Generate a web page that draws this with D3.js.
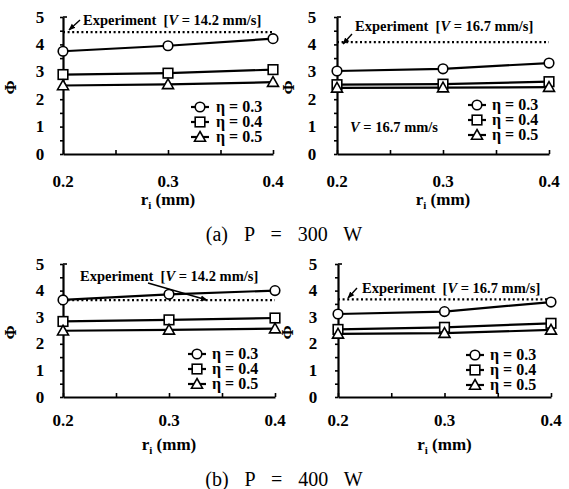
<!DOCTYPE html>
<html><head><meta charset="utf-8">
<script src="https://cdn.jsdelivr.net/npm/d3@7"></script>
<style>
body{margin:0;background:#fff;}
</style></head>
<body><svg id="c" width="569" height="489"></svg>
<script>
// ---- data ----
const radii = [0.2, 0.3, 0.4];
const etaLabels = ["η = 0.3", "η = 0.4", "η = 0.5"];
const xTickLabels = ["0.2", "0.3", "0.4"];
const yTickLabels = ["0", "1", "2", "3", "4", "5"];
// P = 300 W, V = 14.2 mm/s
const a1_eta03 = [3.75, 3.95, 4.21];
const a1_eta04 = [2.90, 2.95, 3.08];
const a1_eta05 = [2.50, 2.54, 2.62];
const a1_exp = 4.45;
// P = 300 W, V = 16.7 mm/s
const a2_eta03 = [3.03, 3.11, 3.32];
const a2_eta04 = [2.53, 2.55, 2.64];
const a2_eta05 = [2.41, 2.42, 2.44];
const a2_exp = 4.08;
// P = 400 W, V = 14.2 mm/s
const b1_eta03 = [3.65, 3.86, 4.00];
const b1_eta04 = [2.84, 2.90, 2.97];
const b1_eta05 = [2.49, 2.52, 2.57];
const b1_exp = 3.64;
// P = 400 W, V = 16.7 mm/s
const b2_eta03 = [3.12, 3.21, 3.57];
const b2_eta04 = [2.54, 2.62, 2.77];
const b2_eta05 = [2.37, 2.40, 2.52];
const b2_exp = 3.67;
const captions = ["(a)  P  =  300  W", "(b)  P  =  400  W"];

const FONT = "Liberation Serif";
const svg = d3.select("#c");
const symbols = ["circle", "square", "triangle"];

function txt(g) {
  return g.append("text").attr("font-family", FONT);
}

function drawMarker(g, type, x, y) {
  if (type === "circle") {
    g.append("circle").attr("cx", x).attr("cy", y).attr("r", 4.8)
      .attr("fill", "#fff").attr("stroke", "#000").attr("stroke-width", 1.6);
  } else if (type === "square") {
    g.append("rect").attr("x", x - 4.8).attr("y", y - 4.8).attr("width", 9.6).attr("height", 9.6)
      .attr("fill", "#fff").attr("stroke", "#000").attr("stroke-width", 1.6);
  } else {
    g.append("path").attr("d", `M${x},${y-5.5}L${x+5.5},${y+4.2}L${x-5.5},${y+4.2}Z`)
      .attr("fill", "#fff").attr("stroke", "#000").attr("stroke-width", 1.6);
  }
}

svg.append("defs").append("marker").attr("id", "ah").attr("viewBox", "0 0 10 10")
  .attr("refX", 9).attr("refY", 5).attr("markerWidth", 7).attr("markerHeight", 7)
  .attr("markerUnits", "userSpaceOnUse").attr("orient", "auto")
  .append("path").attr("d", "M0,1L10,5L0,9Z").attr("fill", "#000");

const panels = [
  {series: [a1_eta03, a1_eta04, a1_eta05], exp: a1_exp, vel: "14.2",
   x0: 63, x1: 273, y0: 154, y1: 17, ylab: 40, phiX: 11,
   xlabY: 187, rlabY: 205,
   expText: [83, 25], arrow: [80, 20, 69, 30],
   leg: {sx: 200, tx: 216, ys: [107, 122, 137]}, vnote: null},
  {series: [a2_eta03, a2_eta04, a2_eta05], exp: a2_exp, vel: "16.7",
   x0: 337, x1: 549, y0: 154, y1: 17, ylab: 312, phiX: 289,
   xlabY: 187, rlabY: 205,
   expText: [355, 31], arrow: [352, 34, 343, 44],
   leg: {sx: 477, tx: 492, ys: [105, 120, 135]}, vnote: [350, 132]},
  {series: [b1_eta03, b1_eta04, b1_eta05], exp: b1_exp, vel: "14.2",
   x0: 63, x1: 275, y0: 397, y1: 264, ylab: 40, phiX: 11,
   xlabY: 426, rlabY: 450,
   expText: [80, 281], arrow: [148, 283, 207, 300],
   leg: {sx: 197, tx: 212, ys: [354, 369, 384]}, vnote: null},
  {series: [b2_eta03, b2_eta04, b2_eta05], exp: b2_exp, vel: "16.7",
   x0: 338, x1: 551, y0: 397, y1: 264, ylab: 313, phiX: 288,
   xlabY: 426, rlabY: 450,
   expText: [362, 293], arrow: [357, 288, 348, 298],
   leg: {sx: 475, tx: 490, ys: [355, 370, 385]}, vnote: null}
];

panels.forEach(p => {
  const g = svg.append("g");
  const x = d3.scaleLinear().domain([0.2, 0.4]).range([p.x0, p.x1]);
  const y = d3.scaleLinear().domain([0, 5]).range([p.y0, p.y1]);

  const yAx = g.append("g").attr("transform", `translate(${p.x0},0)`)
    .call(d3.axisLeft(y).tickValues(d3.range(0, 5.01, 0.5)).tickSize(3).tickFormat("").tickSizeOuter(0));
  yAx.select(".domain").attr("stroke-width", 2.2);
  yAx.selectAll(".tick line").attr("stroke-width", 1.6);
  g.append("line").attr("x1", p.x0).attr("x2", p.x0 + 4).attr("y1", y(5)).attr("y2", y(5))
    .attr("stroke", "#000").attr("stroke-width", 1.6);
  const xAx = g.append("g").attr("transform", `translate(0,${p.y0})`)
    .call(d3.axisTop(x).tickValues([0.2, 0.25, 0.3, 0.35, 0.4]).tickSize(4).tickFormat("").tickSizeOuter(0));
  xAx.select(".domain").attr("stroke-width", 2.2);
  xAx.selectAll(".tick line").attr("stroke-width", 1.6);

  yTickLabels.forEach((d, i) => {
    txt(g).attr("x", p.ylab).attr("y", y(i) + 5.5).attr("text-anchor", "middle")
      .attr("font-size", 17).attr("font-weight", "bold").text(d);
  });
  xTickLabels.forEach((d, i) => {
    txt(g).attr("x", x(radii[i])).attr("y", p.xlabY).attr("text-anchor", "middle")
      .attr("font-size", 17).attr("font-weight", "bold").text(d);
  });

  const rt = txt(g).attr("x", (p.x0 + p.x1) / 2).attr("y", p.rlabY)
    .attr("text-anchor", "middle").attr("font-size", 17).attr("font-weight", "bold");
  rt.append("tspan").text("r");
  rt.append("tspan").attr("font-size", 11).attr("dy", 4).text("i");
  rt.append("tspan").attr("dy", -4).text(" (mm)");
  txt(g).attr("transform", `translate(${p.phiX + 5},${(p.y0 + p.y1) / 2 + 2}) rotate(-90)`)
    .attr("text-anchor", "middle").attr("font-size", 17).attr("font-weight", "bold").text("Φ");

  g.append("line").attr("x1", x(0.2)).attr("x2", x(0.4)).attr("y1", y(p.exp)).attr("y2", y(p.exp))
    .attr("stroke", "#000").attr("stroke-width", 2.2).attr("stroke-dasharray", "2,2.6");

  const line = d3.line().x((d, i) => x(radii[i])).y(d => y(d));
  p.series.forEach(s => {
    g.append("path").attr("d", line(s)).attr("fill", "none").attr("stroke", "#000").attr("stroke-width", 2.2);
  });
  p.series.forEach((s, k) => {
    s.forEach((v, i) => drawMarker(g, symbols[k], x(radii[i]), y(v)));
  });

  const et = txt(g).attr("x", p.expText[0]).attr("y", p.expText[1])
    .attr("font-size", 14.5).attr("font-weight", "bold").style("white-space", "pre");
  et.append("tspan").text("Experiment  [");
  et.append("tspan").attr("font-style", "italic").text("V");
  et.append("tspan").text(` = ${p.vel} mm/s]`);
  g.append("line").attr("x1", p.arrow[0]).attr("y1", p.arrow[1]).attr("x2", p.arrow[2]).attr("y2", p.arrow[3])
    .attr("stroke", "#000").attr("stroke-width", 1.4).attr("marker-end", "url(#ah)");

  etaLabels.forEach((lab, k) => {
    const yy = p.leg.ys[k];
    g.append("line").attr("x1", p.leg.sx - 9).attr("x2", p.leg.sx + 9).attr("y1", yy).attr("y2", yy)
      .attr("stroke", "#000").attr("stroke-width", 2.2);
    drawMarker(g, symbols[k], p.leg.sx, yy);
    txt(g).attr("x", p.leg.tx).attr("y", yy + 5).attr("font-size", 16).attr("font-weight", "bold").text(lab);
  });

  if (p.vnote) {
    const vt = txt(g).attr("x", p.vnote[0]).attr("y", p.vnote[1]).attr("font-size", 14.5).attr("font-weight", "bold");
    vt.append("tspan").attr("font-style", "italic").text("V");
    vt.append("tspan").text(` = ${p.vel} mm/s`);
  }
});

txt(svg).attr("x", 284).attr("y", 241).attr("text-anchor", "middle")
  .attr("font-size", 20).attr("word-spacing", 3).style("white-space", "pre").text(captions[0]);
txt(svg).attr("x", 284).attr("y", 486).attr("text-anchor", "middle")
  .attr("font-size", 20).attr("word-spacing", 3).style("white-space", "pre").text(captions[1]);
</script></body></html>
